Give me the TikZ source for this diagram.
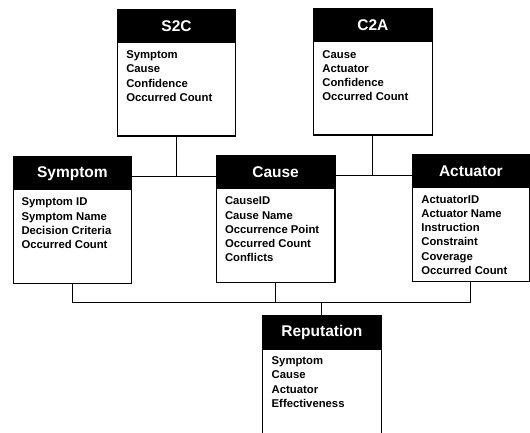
\documentclass[tikz,border=0pt]{standalone}
\usepackage{fontspec}
\setmainfont{Liberation Sans}
\newlength{\du}
\setlength{\du}{1pt}
\tikzset{
  tblframe/.style={draw=black, line width=1.3pt, fill=white, anchor=north west,
    inner sep=0pt, minimum width=118.5\du, minimum height=126\du},
  tblhead/.style={fill=black, text=white, anchor=north, inner sep=0pt,
    minimum width=118.5\du, minimum height=33.5\du,
    font=\bfseries\fontsize{15.5}{18}\selectfont},
  tblfields/.style={anchor=north west, inner sep=0pt, align=left,
    font=\bfseries\fontsize{11.3}{14.2}\selectfont},
  tblline/.style={draw=black, line width=0.9pt},
}

\begin{document}
\begin{tikzpicture}
\pgftransformxscale{1.000000}
\pgftransformyscale{-1.000000}
\useasboundingbox (0\du,0\du) rectangle (530\du,433\du);
% S2C
\node[tblframe] (s2c) at (116.6\du,9.5\du) {};
\node[tblhead] (s2cH) at (s2c.north) {S2C};
\node[tblfields] (s2cF) at (126.1\du,50.7\du) {Symptom\\Cause\\Confidence\\Occurred Count};
% C2A
\node[tblframe] (c2a) at (313.0\du,8.5\du) {};
\node[tblhead] (c2aH) at (c2a.north) {C2A};
\node[tblfields] (c2aF) at (322.2\du,50.0\du) {Cause\\Actuator\\Confidence\\Occurred Count};
% Symptom
\node[tblframe] (sympt) at (12.5\du,156.5\du) {};
\node[tblhead] (symptH) at (sympt.north) {Symptom};
\node[tblfields] (symptF) at (21.3\du,197.8\du) {Symptom ID\\Symptom Name\\Decision Criteria\\Occurred Count};
% Cause
\node[tblframe] (cause) at (215.7\du,155.5\du) {};
\node[tblhead] (causeH) at (cause.north) {Cause};
\node[tblfields] (causeF) at (224.8\du,196.8\du) {CauseID\\Cause Name\\Occurrence Point\\Occurred Count\\Conflicts};
% Actuator
\node[tblframe, minimum width=117.5\du] (act) at (411.5\du,154.5\du) {};
\node[tblhead, minimum width=117.5\du] (actH) at (act.north) {Actuator};
\node[tblfields] (actF) at (421.2\du,195.4\du) {ActuatorID\\Actuator Name\\Instruction\\Constraint\\Coverage\\Occurred Count};
% Reputation
\node[tblframe, minimum height=135\du] (rep) at (262.0\du,315.4\du) {};
\node[tblhead, minimum height=34.6\du] (repH) at (rep.north) {Reputation};
\node[tblfields] (repF) at (271.5\du,356.7\du) {Symptom\\Cause\\Actuator\\Effectiveness};
% links
\coordinate (bus) at (0\du,302.5\du);
\coordinate (busL) at (0\du,176.0\du);
\coordinate (busR) at (0\du,175.0\du);
\draw[tblline] (symptH.east |- busL) -- (causeH.west |- busL);
\draw[tblline] (s2c.south) -- (s2c.south |- busL);
\draw[tblline] (causeH.east |- busR) -- (actH.west |- busR);
\draw[tblline] (c2a.south) -- (c2a.south |- busR);
\draw[tblline] (sympt.south) |- (act.south |- bus) -- (act.south);
\draw[tblline] (cause.south) -- (cause.south |- bus);
\draw[tblline] (rep.north) -- (rep.north |- bus);
\end{tikzpicture}
\end{document}
